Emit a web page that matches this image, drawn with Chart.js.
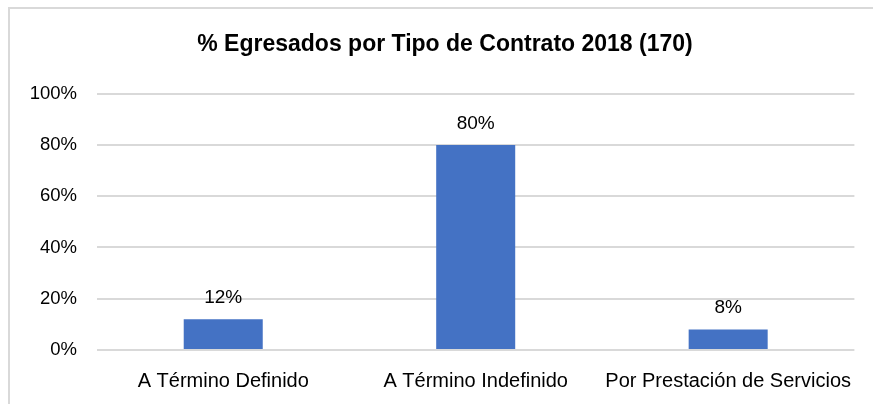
<!DOCTYPE html>
<html>
<head>
<meta charset="utf-8">
<script src="https://cdn.jsdelivr.net/npm/chart.js@4"></script>
<style>
  html, body { margin: 0; padding: 0; background: #fff; overflow: hidden; }
  #wrap { width: 873px; height: 404px; }
</style>
</head>
<body>
<div id="wrap"><canvas id="chart" width="873" height="404"></canvas></div>
<script>
// data
const categories = ['A Término Definido', 'A Término Indefinido', 'Por Prestación de Servicios'];
const percentages = [12, 80, 8];
const yTicks = [0, 20, 40, 60, 80, 100];

const FONT = '"Liberation Sans Narrow", "Arial Narrow", "Liberation Sans", Arial, sans-serif';

// chart frame (light gray border, cut off on the right/bottom like the source)
const framePlugin = {
    id: 'frame',
    beforeDraw(chart) {
        const ctx = chart.ctx;
        ctx.save();
        ctx.strokeStyle = '#d9d9d9';
        ctx.lineWidth = 2;
        ctx.beginPath();
        ctx.moveTo(9, chart.height + 2);
        ctx.lineTo(9, 8);
        ctx.lineTo(chart.width + 2, 8);
        ctx.stroke();
        ctx.restore();
    }
};

// value labels above each bar
const valueLabels = {
    id: 'valueLabels',
    afterDatasetsDraw(chart) {
        const ctx = chart.ctx;
        const meta = chart.getDatasetMeta(0);
        ctx.save();
        ctx.font = '19px ' + FONT;
        ctx.fillStyle = '#000';
        ctx.textAlign = 'center';
        ctx.textBaseline = 'alphabetic';
        meta.data.forEach((bar, i) => {
            ctx.fillText(percentages[i] + '%', bar.x, bar.y - 16);
        });
        ctx.restore();
    }
};

new Chart(document.getElementById('chart'), {
    type: 'bar',
    data: {
        labels: categories,
        datasets: [{
            data: percentages,
            backgroundColor: '#4472C4',
            categoryPercentage: 1,
            barPercentage: 0.313
        }]
    },
    options: {
        responsive: false,
        animation: false,
        devicePixelRatio: 1,
        layout: { padding: { left: 17, right: 0, top: 0, bottom: 12 } },
        plugins: {
            legend: { display: false },
            tooltip: { enabled: false },
            title: {
                display: true,
                text: '% Egresados por Tipo de Contrato 2018 (170)',
                color: '#000',
                font: { family: FONT, size: 23, weight: 'bold' },
                padding: { top: 31, bottom: 35 }
            }
        },
        scales: {
            x: {
                afterFit(scale) { scale.height = 42; },
                grid: { display: false, drawTicks: false },
                border: { display: false },
                ticks: {
                    color: '#000',
                    padding: 19,
                    maxRotation: 0,
                    font: { family: FONT, size: 20 }
                }
            },
            y: {
                min: 0,
                max: 100,
                afterFit(scale) { scale.width = 80; },
                afterBuildTicks(scale) {
                    scale.ticks = yTicks.map(v => ({ value: v }));
                },
                grid: { color: '#d9d9d9', lineWidth: 2, drawTicks: false },
                border: { display: false },
                ticks: {
                    color: '#000',
                    padding: 20,
                    font: { family: FONT, size: 18.5 },
                    callback: v => v + '%'
                }
            },
            // empty spacer on the right so the title centres like the source
            y2: {
                position: 'right',
                min: 0,
                max: 100,
                afterFit(scale) { scale.width = 18; },
                grid: { display: false, drawTicks: false },
                border: { display: false },
                ticks: { display: false }
            }
        }
    },
    plugins: [framePlugin, valueLabels]
});
</script>
</body>
</html>
